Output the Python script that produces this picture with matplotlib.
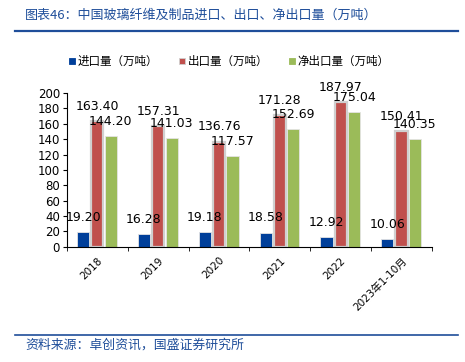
import numpy as np
import matplotlib.pyplot as plt
from matplotlib.lines import Line2D

plt.rcParams['font.family'] = ['DejaVu Sans', 'Noto Sans CJK SC']

# data
years = ['2018', '2019', '2020', '2021', '2022', '2023年1-10月']
imports = [19.20, 16.28, 19.18, 18.58, 12.92, 10.06]
exports = [163.40, 157.31, 136.76, 171.28, 187.97, 150.41]
net_exports = [144.20, 141.03, 117.57, 152.69, 175.04, 140.35]
series_names = ['进口量（万吨）', '出口量（万吨）', '净出口量（万吨）']

blue = '#003f9a'
red = '#c0504d'
green = '#9bbb59'
dark_blue = '#1f4e9a'

fig = plt.figure(figsize=(4.65, 3.62), dpi=100)
ax = fig.add_axes([0.144, 0.318, 0.785, 0.425])

x = np.arange(len(years))
w = 0.2
b1 = ax.bar(x - 0.235, imports, w, color=blue, edgecolor='#e4e4e4', linewidth=0.6)
b2 = ax.bar(x, exports, w, color=red, edgecolor='#d0d0d0', linewidth=1.6)
b3 = ax.bar(x + 0.22, net_exports, w, color=green, edgecolor='#e4e4e4', linewidth=0.6)

for bars, vals in [(b1, imports), (b2, exports), (b3, net_exports)]:
    for rect, v in zip(bars, vals):
        ax.annotate('%.2f' % v, (rect.get_x() + rect.get_width() / 2, v),
                    xytext=(0, 6), textcoords='offset points',
                    ha='center', va='bottom', fontsize=9, color='black')

ax.set_ylim(0, 200)
ax.set_yticks(range(0, 201, 20))
ax.set_xlim(-0.5, len(years) - 0.5)
ax.set_xticks(x)
ax.set_xticklabels(years, rotation=45, ha='right', rotation_mode='anchor',
                   fontsize=7.5, family=['DejaVu Sans', 'Noto Sans CJK SC'])
ax.set_xticks(np.arange(-0.5, len(years), 1), minor=True)
ax.tick_params(axis='x', which='major', length=0, pad=6)
ax.tick_params(axis='x', which='minor', length=3, direction='out')
ax.tick_params(axis='y', labelsize=8.5, length=3, direction='out', pad=2)
for s in ['top', 'right']:
    ax.spines[s].set_visible(False)

handles = [Line2D([], [], marker='s', ls='none', color=c, markersize=4.5,
                  markeredgecolor=e, markeredgewidth=0.6)
           for c, e in [(blue, blue), (red, '#d0d0d0'), (green, green)]]
fig.legend(handles, series_names, loc='center left', bbox_to_anchor=(0.147, 0.831),
           ncol=3, frameon=False, handlelength=0.6, handletextpad=0.2,
           columnspacing=1.75, borderaxespad=0, borderpad=0,
           prop={'family': ['Noto Sans CJK SC', 'DejaVu Sans'], 'size': 8.3})

fig.text(0.054, 0.958, '图表46：中国玻璃纤维及制品进口、出口、净出口量（万吨）',
         color=dark_blue, fontsize=9.4, style='italic', va='center',
         family=['Noto Sans CJK SC', 'DejaVu Sans'])
fig.add_artist(Line2D([0.032, 0.985], [0.914, 0.914], color=dark_blue, lw=1.6))
fig.add_artist(Line2D([0.032, 0.985], [0.075, 0.075], color=dark_blue, lw=1.2))
fig.text(0.054, 0.048, '资料来源：卓创资讯，国盛证券研究所',
         color=dark_blue, fontsize=9.3, style='italic', va='center',
         family=['Noto Sans CJK SC', 'DejaVu Sans'])

fig.savefig('out.png', dpi=100)
